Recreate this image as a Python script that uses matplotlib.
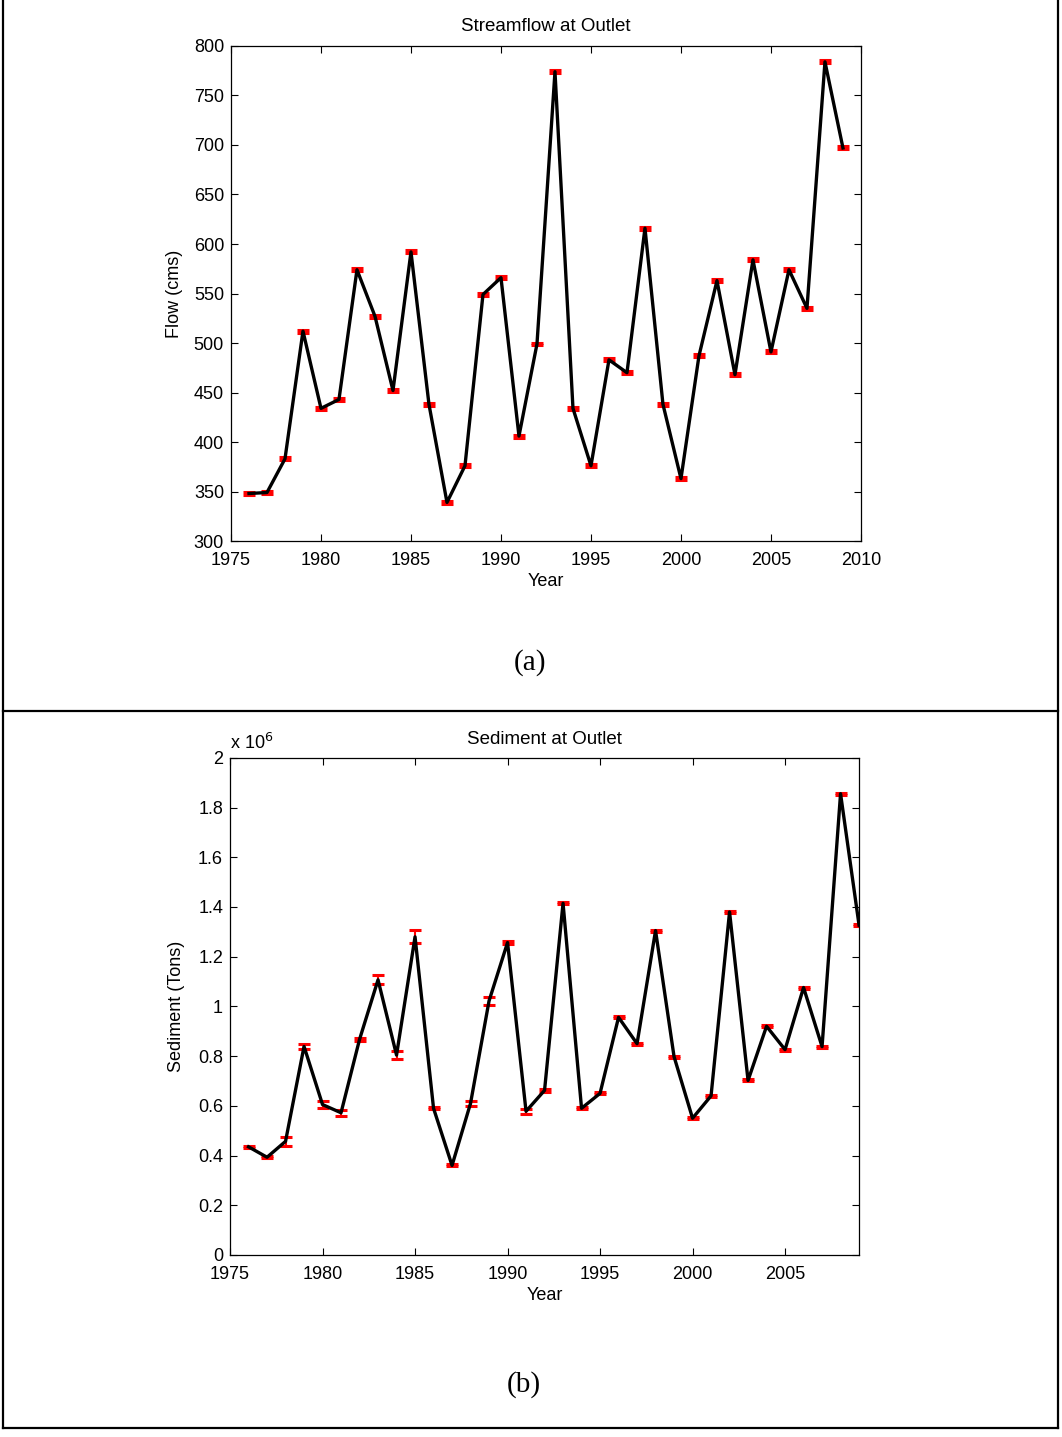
import matplotlib
matplotlib.use("Agg")
import matplotlib.pyplot as plt
from matplotlib.lines import Line2D
from matplotlib.ticker import FuncFormatter

plt.rcParams["font.family"] = ["Liberation Sans", "DejaVu Sans"]

years = list(range(1976, 2010))

# annual mean streamflow (cms) and its error
flow = [348, 349, 383, 512, 434, 443, 574, 527, 452, 592, 438, 339, 376, 549,
        566, 406, 499, 774, 434, 376, 483, 470, 616, 438, 363, 487, 563, 468,
        584, 491, 574, 535, 784, 697]
flow_err = [1.5, 1.5, 1.5, 1.5, 1.5, 1.5, 1.5, 1.5, 1.5, 1.5, 1.5, 1.5, 1.5, 1.5,
            1.5, 1.5, 1.5, 1.5, 1.5, 1.5, 1.5, 1.5, 1.5, 1.5, 1.5, 1.5, 1.5, 1.5,
            1.5, 1.5, 1.5, 1.5, 1.5, 1.5]

# annual sediment load (tons) and its error
sediment = [435000, 393000, 457000, 839000, 605000, 572000, 867000, 1107000,
            804000, 1280000, 590000, 360000, 610000, 1022000, 1257000, 578000,
            662000, 1415000, 590000, 650000, 956000, 850000, 1305000, 798000,
            550000, 640000, 1380000, 702000, 920000, 826000, 1076000, 838000,
            1856000, 1327000]
sediment_err = [4000, 4000, 17000, 10000, 15000, 13000, 5000, 18000,
                15000, 26000, 4000, 4000, 10000, 16000, 7000, 10000,
                5000, 4000, 4000, 4000, 4000, 4000, 4000, 4000,
                4000, 4000, 4000, 4000, 4000, 4000, 4000, 4000,
                4000, 4000]

FS = 13

fig = plt.figure(figsize=(10.62, 14.37), dpi=100)


def style_axes(ax):
    ax.tick_params(direction="in", top=True, right=True, length=5,
                   width=0.8, labelsize=FS)
    ax.tick_params(axis="y", pad=5)
    ax.tick_params(axis="x", pad=8)
    for s in ax.spines.values():
        s.set_linewidth(0.9)


# (a) streamflow
ax1 = fig.add_axes([0.2175, 0.6235, 0.5932, 0.3445])
ax1.errorbar(years, flow, yerr=flow_err, fmt="none", ecolor="red",
             elinewidth=1.5, capsize=4.5, capthick=2.2)
ax1.plot(years, flow, color="black", lw=2.4)
ax1.set_xlim(1975, 2010)
ax1.set_ylim(300, 800)
ax1.set_xticks(range(1975, 2011, 5))
ax1.set_yticks(range(300, 801, 50))
ax1.set_title("Streamflow at Outlet", fontsize=13.5, pad=10.5)
ax1.set_xlabel("Year", fontsize=FS, labelpad=3)
ax1.set_ylabel("Flow (cms)", fontsize=FS, labelpad=8)
style_axes(ax1)

# (b) sediment
ax2 = fig.add_axes([0.2166, 0.1267, 0.5923, 0.3459])
ax2.errorbar(years, sediment, yerr=sediment_err, fmt="none", ecolor="red",
             elinewidth=1.5, capsize=4.5, capthick=2.2)
ax2.plot(years, sediment, color="black", lw=2.4)
ax2.set_xlim(1975, 2009)
ax2.set_ylim(0, 2e6)
ax2.set_xticks(range(1975, 2006, 5))
ax2.set_yticks([i * 2e5 for i in range(11)])
ax2.yaxis.set_major_formatter(FuncFormatter(lambda v, p: "%g" % round(v / 1e6, 1)))
ax2.text(0.0, 1.01, r"x 10$^{6}$", transform=ax2.transAxes, fontsize=FS,
         ha="left", va="bottom")
ax2.set_title("Sediment at Outlet", fontsize=13.5, pad=10)
ax2.set_xlabel("Year", fontsize=FS, labelpad=3)
ax2.set_ylabel("Sediment (Tons)", fontsize=FS, labelpad=9)
style_axes(ax2)

# panel captions
fig.text(530 / 1062, 1 - 663 / 1437, "(a)", fontsize=21, ha="center", va="center",
         family="Liberation Serif")
fig.text(524 / 1062, 1 - 1385 / 1437, "(b)", fontsize=21, ha="center", va="center",
         family="Liberation Serif")

# surrounding frame and divider
W, H = 1062, 1437
frame = [((3, 3), (0, 1428)), ((1058, 1058), (0, 1428)),
         ((3, 1058), (1428, 1428)), ((3, 1058), (711, 711))]
for xs, ys in frame:
    fig.add_artist(Line2D([x / W for x in xs], [1 - y / H for y in ys],
                          color="black", lw=1.6))

fig.savefig("out.png", dpi=100)
